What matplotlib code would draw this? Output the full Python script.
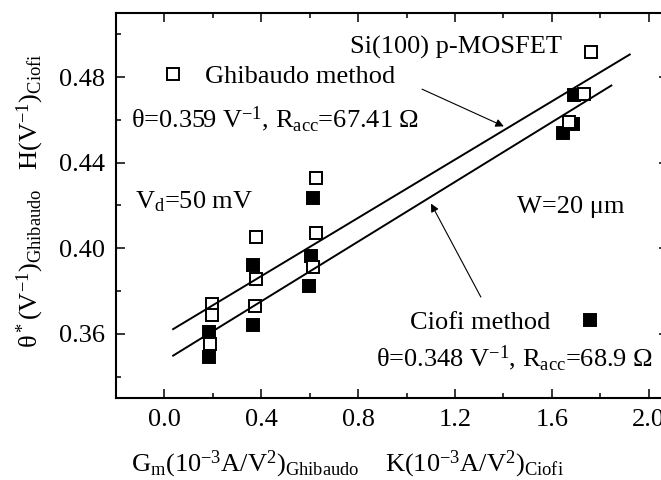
import numpy as np
import matplotlib.pyplot as plt
from matplotlib.ticker import MultipleLocator, FormatStrFormatter

plt.rcParams['font.family'] = ['Liberation Serif', 'DejaVu Sans']
plt.rcParams['mathtext.fontset'] = 'custom'
plt.rcParams['mathtext.rm'] = 'Liberation Serif'
plt.rcParams['mathtext.it'] = 'Liberation Serif:italic'
plt.rcParams['mathtext.bf'] = 'Liberation Serif:bold'

# --- data ---
# open squares: Ghibaudo method, theta* vs Gm
ghib_x = [0.198, 0.198, 0.190, 0.379, 0.379, 0.375, 0.627, 0.627, 0.614, 1.761, 1.732, 1.670]
ghib_y = [0.3740, 0.3688, 0.3553, 0.4051, 0.3856, 0.3730, 0.4330, 0.4070, 0.3912, 0.4916, 0.4721, 0.4591]

# filled squares: Ciofi method, H vs K
ciofi_x = [0.186, 0.186, 0.367, 0.367, 0.614, 0.606, 0.598, 1.691, 1.687, 1.645]
ciofi_y = [0.3609, 0.3493, 0.3921, 0.3642, 0.4237, 0.3963, 0.3823, 0.4716, 0.4581, 0.4540]

# fitted lines (end points as drawn)
ghib_fit_x = [0.036, 1.922]
ghib_fit_y = [0.3622, 0.4906]
ciofi_fit_x = [0.036, 1.846]
ciofi_fit_y = [0.3498, 0.4761]

FS = 19

fig = plt.figure(figsize=(6.61, 4.80), dpi=100)
ax = fig.add_axes([116 / 661, 82 / 480, 552 / 661, 385 / 480])

h2, = ax.plot(ciofi_x, ciofi_y, 's', ms=8, mfc='k', mec='k', mew=1.4,
              label='Ciofi method', zorder=3)
h1, = ax.plot(ghib_x, ghib_y, 's', ms=8, mfc='white', mec='k', mew=1.4,
              label='Ghibaudo method', zorder=4)
ax.plot(ghib_fit_x, ghib_fit_y, '-', color='k', lw=1.4, zorder=5)
ax.plot(ciofi_fit_x, ciofi_fit_y, '-', color='k', lw=1.4, zorder=5)

ax.set_xlim(-0.2, 2.08)
ax.set_ylim(0.33, 0.51)
ax.xaxis.set_major_locator(MultipleLocator(0.4))
ax.xaxis.set_minor_locator(MultipleLocator(0.2))
ax.yaxis.set_major_locator(MultipleLocator(0.04))
ax.yaxis.set_minor_locator(MultipleLocator(0.02))
ax.xaxis.set_major_formatter(FormatStrFormatter('%.1f'))
ax.yaxis.set_major_formatter(FormatStrFormatter('%.2f'))
ax.tick_params(which='both', direction='in', top=True, right=True, width=1.1, labelsize=FS, pad=8)
ax.tick_params(which='major', length=6.5)
ax.tick_params(which='minor', length=3.8)
for s in ax.spines.values():
    s.set_linewidth(1.5)

leg1 = ax.legend(handles=[h1], loc='center left', bbox_to_anchor=(0.084, 0.836),
                 frameon=False, handlelength=0.8, handletextpad=0.8,
                 borderpad=0, borderaxespad=0, fontsize=FS, numpoints=1)
ax.add_artist(leg1)
ax.legend(handles=[h2], loc='center right', bbox_to_anchor=(0.878, 0.197),
          frameon=False, handlelength=0.8, handletextpad=1.1, markerfirst=False,
          borderpad=0, borderaxespad=0, fontsize=FS, numpoints=1)

ax.text(-0.136, 0.4567, r'θ=0.359 V$^{-1}$, R$_\mathrm{acc}$=67.41 Ω', fontsize=FS, va='baseline')
ax.text(-0.12, 0.4186, r'V$_\mathrm{d}$=50 mV', fontsize=FS, va='baseline')
ax.text(1.456, 0.4163, 'W=20 μm', fontsize=FS, va='baseline')
ax.text(0.767, 0.4912, 'Si(100) p-MOSFET', fontsize=FS, va='baseline')
ax.text(0.874, 0.3447, r'θ=0.348 V$^{-1}$, R$_\mathrm{acc}$=68.9 Ω', fontsize=FS, va='baseline')

arrow = dict(arrowstyle='-|>', lw=0.8, color='k', mutation_scale=12, shrinkA=0, shrinkB=0)
ax.annotate('', xy=(1.402, 0.457), xytext=(1.064, 0.4744), arrowprops=arrow)
ax.annotate('', xy=(1.101, 0.4209), xytext=(1.307, 0.3772), arrowprops=arrow)

fig.text(347 / 661, 0.017,
         r'G$_\mathrm{m}$(10$^{-3}$A/V$^2$)$_\mathrm{Ghibaudo}$    K(10$^{-3}$A/V$^2$)$_\mathrm{Ciofi}$',
         fontsize=FS, ha='center', va='baseline')
fig.text(30 / 661, 0.581,
         r'θ$^*$(V$^{-1}$)$_\mathrm{Ghibaudo}$   H(V$^{-1}$)$_\mathrm{Ciofi}$',
         fontsize=FS, ha='center', va='center', rotation=90)

fig.savefig('out.png', dpi=100)
